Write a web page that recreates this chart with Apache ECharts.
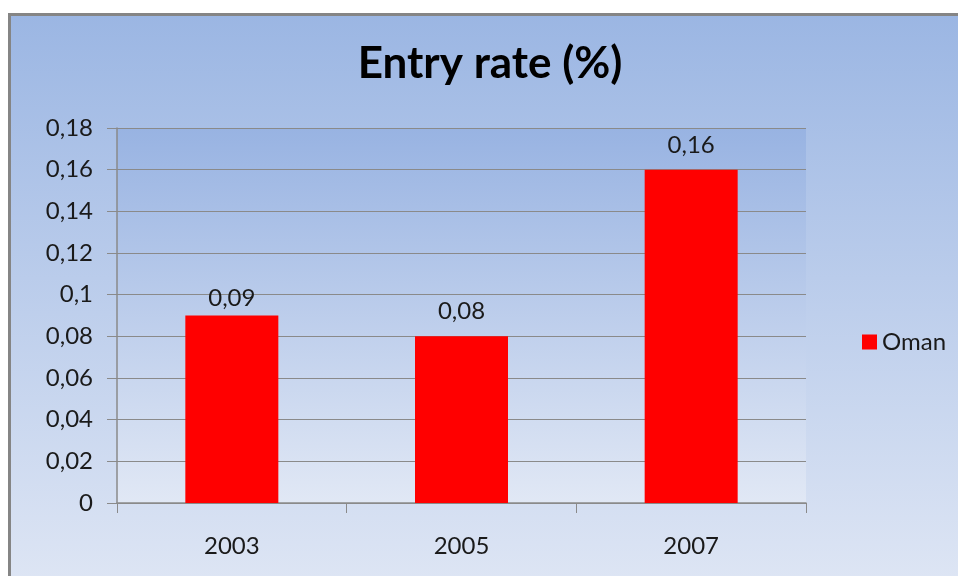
<!DOCTYPE html>
<html>
<head>
<meta charset="utf-8">
<script src="https://cdn.jsdelivr.net/npm/echarts@6/dist/echarts.min.js"></script>
<style>
html,body{margin:0;padding:0;background:#fff;overflow:hidden;}
#c{width:958px;height:576px;}
</style>
</head>
<body>
<div id="c"></div>
<script>
var categories = ['2003', '2005', '2007'];
var omanValues = [0.09, 0.08, 0.16];
var seriesName = 'Oman';
var titleText = 'Entry rate (%)';
var yMin = 0, yMax = 0.18, yInterval = 0.02;
// label gap above each bar (style only)
var labelGaps = [5, 13, 12];

function fmt(v) {
  var r = Math.round(v * 100) / 100;
  return String(r).replace('.', ',');
}

var chart = echarts.init(document.getElementById('c'));
var font = 'Lato, "Open Sans", sans-serif';
var barData = omanValues.map(function (v, i) {
  return { value: v, label: { distance: labelGaps[i] } };
});
chart.setOption({
  backgroundColor: '#ffffff',
  animation: false,
  graphic: [
    {
      type: 'rect', z: -10, silent: true,
      shape: { x: 8, y: 13, width: 952, height: 565 },
      style: {
        fill: new echarts.graphic.LinearGradient(0, 0, 0, 1, [
          { offset: 0, color: '#9bb6e3' },
          { offset: 1, color: '#dde5f4' }
        ])
      }
    },
    { type: 'line', z: -9, silent: true, shape: { x1: 8, y1: 14.5, x2: 958, y2: 14.5 }, style: { stroke: '#858585', lineWidth: 3 } },
    { type: 'line', z: -9, silent: true, shape: { x1: 9.5, y1: 13, x2: 9.5, y2: 576 }, style: { stroke: '#858585', lineWidth: 3 } }
  ],
  title: {
    text: titleText,
    left: 485,
    textAlign: 'center',
    top: 37,
    textStyle: { fontFamily: font, fontWeight: 'bold', fontSize: 44, color: '#000' }
  },
  legend: {
    data: [seriesName],
    left: 857,
    top: 325,
    icon: 'rect',
    itemWidth: 15,
    itemHeight: 15,
    itemGap: 7,
    textStyle: { fontFamily: font, fontSize: 24, color: '#1a1a1a' }
  },
  grid: {
    left: 117, right: 152, top: 128, bottom: 73,
    show: true,
    borderWidth: 0,
    backgroundColor: new echarts.graphic.LinearGradient(0, 0, 0, 1, [
      { offset: 0, color: '#98b3e2' },
      { offset: 1, color: '#e1e8f5' }
    ])
  },
  xAxis: {
    type: 'category',
    data: categories,
    axisLine: { lineStyle: { color: '#8a8a8a', width: 1.5 } },
    axisTick: { show: true, alignWithLabel: false, length: 10, lineStyle: { color: '#8a8a8a' } },
    axisLabel: { margin: 31, fontFamily: font, fontSize: 24, color: '#1a1a1a' },
    splitLine: { show: false }
  },
  yAxis: {
    type: 'value',
    min: yMin, max: yMax, interval: yInterval,
    axisLine: { show: true, lineStyle: { color: '#8a8a8a', width: 1.5 } },
    axisTick: { show: true, length: 10, lineStyle: { color: '#8a8a8a' } },
    axisLabel: { margin: 24, fontFamily: font, fontSize: 24, color: '#1a1a1a', formatter: fmt },
    splitLine: { show: true, lineStyle: { color: '#8a8a8a', width: 1.2 } }
  },
  series: [{
    name: seriesName,
    type: 'bar',
    data: barData,
    barWidth: 93,
    itemStyle: { color: '#ff0000' },
    label: {
      show: true, position: 'top', distance: 12,
      fontFamily: font, fontSize: 24, color: '#1a1a1a',
      formatter: function (p) { return fmt(p.value); }
    }
  }]
});
</script>
</body>
</html>
